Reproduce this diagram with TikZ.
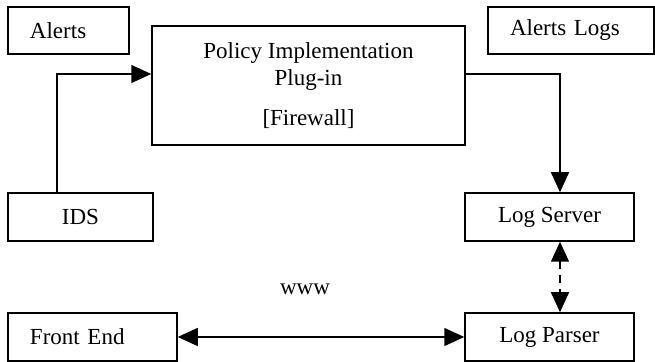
\documentclass[tikz,border=0pt]{standalone}
\usepackage{fontspec}
\setmainfont{Liberation Serif}
\usetikzlibrary{arrows.meta}
\tikzset{
  box/.style={draw, line width=0.75pt, minimum height=23.5pt, inner sep=0pt,
    font=\fontsize{11.5}{13.5}\selectfont},
  leftbox/.style={box, align=left, text width=#1, inner xsep=11pt},
  link/.style={line width=0.75pt, -{Triangle[length=10pt,width=9pt]}},
  twolink/.style={line width=0.75pt, {Triangle[length=10pt,width=9pt]}-{Triangle[length=10pt,width=9pt]}}
}
\begin{document}
\begin{tikzpicture}[x=0.5pt, y=-0.5pt]
      \useasboundingbox (0,0) rectangle (655,362);
      % upper row
      \node[leftbox=38.5pt, minimum width=60.5pt] (alerts) at (68.5, 30.5) {Alerts};
      \node[box, minimum width=156.5pt, minimum height=59.5pt, align=center] (policy) at (308.5, 85.5)
        {Policy Implementation\\Plug-in\\[6.5pt][Firewall]};
      \node[leftbox=61pt, minimum width=83pt] (alertlogs) at (571, 30.5) {Alerts Logs};
      % middle row
      \node[box, minimum width=72.5pt, minimum height=24pt] (ids) at (80.5, 217) {IDS};
      \node[box, minimum width=84.5pt, minimum height=24pt] (logserver) at (549.5, 217) {Log Server};
      % lower row
      \node[leftbox=62.5pt, minimum width=84.5pt, minimum height=24pt] (frontend) at (92.5, 337) {Front End};
      \node[box, minimum width=84.5pt, minimum height=24pt] (logparser) at (549.5, 337) {Log Parser};
      \node[font=\fontsize{11.5}{13}\selectfont] (www) at (305, 289) {www};
      % connectors
      \draw[link] ([xshift=-11.75pt]ids.north) |- ([yshift=5.75pt]policy.west);
      \draw[link] ([yshift=5.75pt]policy.east) -| ([xshift=5.25pt]logserver.north);
      \draw[twolink, dash pattern=on 4pt off 3pt] ([xshift=5.25pt]logserver.south) -- ([xshift=5.25pt]logparser.north);
      \draw[twolink] (frontend.east) -- (logparser.west);
\end{tikzpicture}
\end{document}
